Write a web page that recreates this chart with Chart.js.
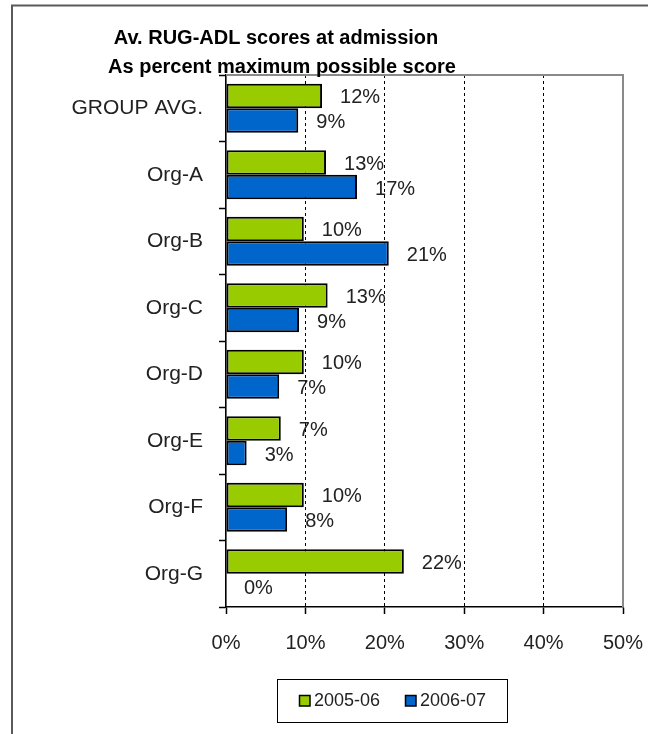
<!DOCTYPE html>
<html>
<head>
<meta charset="utf-8">
<script src="https://cdn.jsdelivr.net/npm/chart.js@4.4.1/dist/chart.umd.min.js"></script>
<style>
  html, body { margin: 0; padding: 0; background: #fff; }
  #wrap { width: 648px; height: 734px; position: relative; }
</style>
</head>
<body>
<div id="wrap"><canvas id="c" width="648" height="734"></canvas></div>
<script>
const categories = ['GROUP AVG.', 'Org-A', 'Org-B', 'Org-C', 'Org-D', 'Org-E', 'Org-F', 'Org-G'];
const series2005 = [12.1, 12.6, 9.8, 12.8, 9.8, 6.9, 9.8, 22.4];
const series2006 = [9.1, 16.5, 20.5, 9.2, 6.7, 2.6, 7.7, 0];
const seriesNames = ['2005-06', '2006-07'];
const xTicks = [0, 10, 20, 30, 40, 50];
const titleLines = ['Av. RUG-ADL scores at admission', 'As percent maximum possible score'];

const GREEN = '#99CC00';
const BLUE = '#0066CC';
const FONT = "'Liberation Sans', Arial, sans-serif";

const framePlugin = {
  id: 'frame',
  beforeDraw(chart) {
    const ctx = chart.ctx;
    ctx.save();
    ctx.fillStyle = '#fff';
    ctx.fillRect(0, 0, chart.width, chart.height);
    ctx.strokeStyle = '#5a5a5a';
    ctx.lineWidth = 2;
    ctx.strokeRect(12, 5.5, chart.width + 20, chart.height + 20);
    ctx.restore();
  },
  beforeDatasetsDraw(chart) {
    const a = chart.chartArea;
    const ctx = chart.ctx;
    ctx.save();
    ctx.strokeStyle = '#8a8a8a';
    ctx.lineWidth = 2;
    ctx.beginPath();
    ctx.moveTo(a.left, a.top);
    ctx.lineTo(a.right, a.top);
    ctx.lineTo(a.right, a.bottom);
    ctx.stroke();
    ctx.restore();
  },
  afterDatasetsDraw(chart) {
    const ctx = chart.ctx;
    ctx.save();
    ctx.font = '20px ' + FONT;
    ctx.fillStyle = '#222';
    ctx.textAlign = 'left';
    ctx.textBaseline = 'middle';
    chart.data.datasets.forEach((ds, di) => {
      const meta = chart.getDatasetMeta(di);
      meta.data.forEach((el, i) => {
        const v = ds.data[i];
        ctx.fillText(Math.round(v) + '%', el.x + 18, el.y + 2);
      });
    });
    ctx.restore();
  },
  afterDraw(chart) {
    const ctx = chart.ctx;
    ctx.save();
    // title
    ctx.fillStyle = '#000';
    ctx.font = 'bold 20px ' + FONT;
    ctx.textAlign = 'center';
    ctx.textBaseline = 'alphabetic';
    ctx.fillText(titleLines[0], 276, 43.5);
    ctx.fillText(titleLines[1], 282, 72.5);
    // legend
    ctx.strokeStyle = '#000';
    ctx.lineWidth = 1;
    ctx.strokeRect(277.5, 679.5, 230, 43);
    ctx.font = '18px ' + FONT;
    ctx.textAlign = 'left';
    ctx.textBaseline = 'middle';
    const xs = [299, 405];
    chart.data.datasets.forEach((ds, i) => {
      ctx.fillStyle = ds.backgroundColor;
      ctx.fillRect(xs[i], 695, 11, 11);
      ctx.strokeStyle = '#000';
      ctx.lineWidth = 1.5;
      ctx.strokeRect(xs[i] + 0.5, 695.5, 10.5, 10.5);
      ctx.fillStyle = '#222';
      ctx.fillText(ds.label, xs[i] + 15, 701);
    });
    ctx.restore();
  }
};

new Chart(document.getElementById('c'), {
  type: 'bar',
  data: {
    labels: categories,
    datasets: [
      { label: seriesNames[0], data: series2005, backgroundColor: GREEN, borderColor: '#000', borderWidth: 2, borderSkipped: false },
      { label: seriesNames[1], data: series2006, backgroundColor: BLUE, borderColor: '#000', borderWidth: 2, borderSkipped: false }
    ]
  },
  options: {
    indexAxis: 'y',
    responsive: false,
    animation: false,
    devicePixelRatio: 1,
    categoryPercentage: 0.74,
    barPercentage: 1.0,
    layout: { padding: { top: 75, right: 25, bottom: 0, left: 0 } },
    plugins: {
      legend: { display: false },
      title: { display: false },
      tooltip: { enabled: false }
    },
    scales: {
      x: {
        type: 'linear',
        min: xTicks[0],
        max: xTicks[xTicks.length - 1],
        afterBuildTicks(scale) { scale.ticks = xTicks.map(v => ({ value: v })); },
        afterFit(scale) { scale.height = 127; scale.paddingLeft = 0; scale.paddingRight = 0; },
        ticks: {
          callback: v => v + '%',
          font: { family: FONT, size: 20 },
          color: '#222',
          padding: 17,
          maxRotation: 0
        },
        grid: {
          color: ctx => (ctx.index > 0 && ctx.index < xTicks.length - 1) ? '#000' : 'rgba(0,0,0,0)',
          lineWidth: 1,
          tickColor: '#000',
          tickLength: 7,
          tickWidth: 1.5
        },
        border: { color: '#000', width: 1.6, dash: [3, 3] }
      },
      y: {
        afterFit(scale) { scale.width = 226; scale.paddingTop = 0; scale.paddingBottom = 0; },
        ticks: {
          font: { family: FONT, size: 21 },
          color: '#222',
          padding: 16
        },
        grid: {
          drawOnChartArea: false,
          offset: true,
          color: '#000',
          tickColor: '#000',
          tickLength: 7,
          tickWidth: 1.5
        },
        border: { color: '#000', width: 1.6 }
      }
    }
  },
  plugins: [framePlugin]
});
</script>
</body>
</html>
